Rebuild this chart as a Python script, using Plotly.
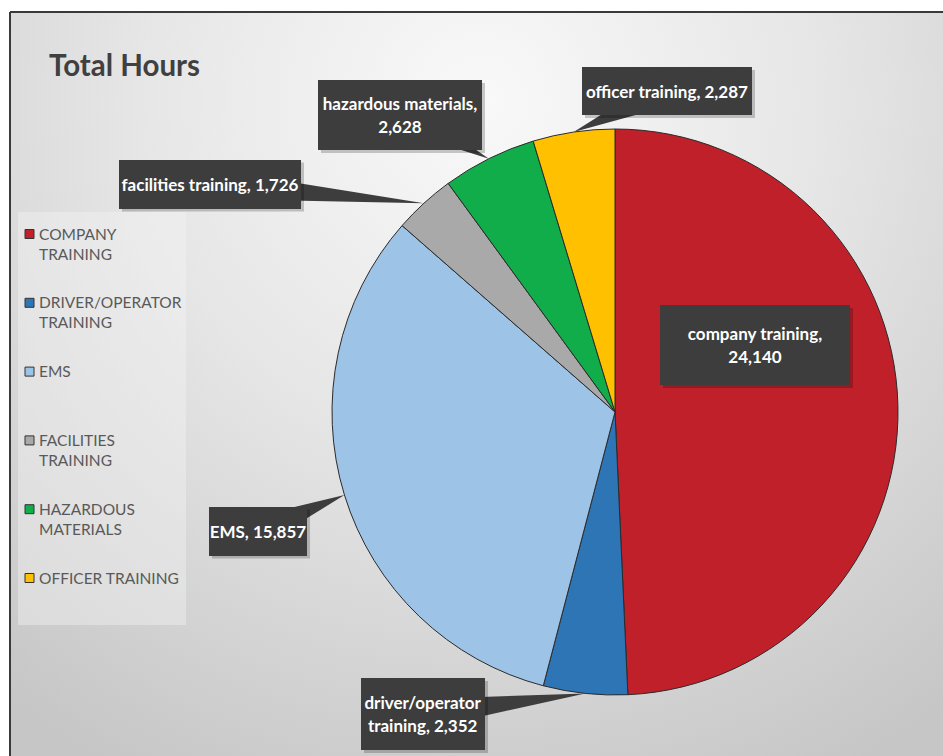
"""
plot.py - Total Hours pie chart with callout labels
"""

import base64
import math
import textwrap

import plotly.graph_objects as go

# Data
categories = ['company training', 'driver/operator training', 'EMS',
              'facilities training', 'hazardous materials', 'officer training']
hours = [24140, 2352, 15857, 1726, 2628, 2287]
legend_labels = ['COMPANY<br>TRAINING', 'DRIVER/OPERATOR<br>TRAINING', 'EMS',
                 'FACILITIES<br>TRAINING', 'HAZARDOUS<br>MATERIALS', 'OFFICER TRAINING']

# Colors / style
COLORS = ['#C0202A', '#2E75B6', '#9DC3E6', '#A9A9A9', '#12AD4B', '#FFC000']
W, H = 943, 756
FONT = 'Lato'

# Pie geometry (pixels)
CX, CY, R = 615, 412, 283

# Callout boxes: center x, center y, width, height, wrap chars, pointer
CALLOUTS = [
    (755, 345, 190, 80, 18, False),
    (423, 714, 124, 72, 16, True),
    (258, 531, 98, 49, 30, True),
    (210, 184, 182, 49, 30, True),
    (400, 115, 164, 70, 20, True),
    (667, 91, 170, 48, 30, True),
]


def px(x):
    return x / W


def py(y):
    return 1 - y / H


def background_uri():
    svg = (
        '<svg xmlns="http://www.w3.org/2000/svg" width="933" height="744">'
        '<defs><radialGradient id="g" gradientUnits="userSpaceOnUse" cx="470" cy="90" r="760">'
        '<stop offset="0" stop-color="#f9f9f9"/>'
        '<stop offset="0.45" stop-color="#e6e6e6"/>'
        '<stop offset="1" stop-color="#c6c6c6"/>'
        '</radialGradient></defs>'
        '<rect width="933" height="744" fill="url(#g)"/></svg>'
    )
    return 'data:image/svg+xml;base64,' + base64.b64encode(svg.encode()).decode()


fig = go.Figure()
fig.add_trace(go.Pie(
    labels=categories,
    values=hours,
    sort=False,
    direction='clockwise',
    rotation=0,
    textinfo='none',
    hoverinfo='label+value',
    marker=dict(colors=COLORS, line=dict(color='#2b2b2b', width=1)),
    domain=dict(x=[px(CX - R), px(CX + R)], y=[py(CY + R), py(CY - R)]),
    showlegend=False,
))

shapes = []
annotations = []

# Frame
shapes.append(dict(type='line', xref='paper', yref='paper', x0=px(10), x1=1,
                   y0=py(12), y1=py(12), line=dict(color='#3a3a3a', width=2)))
shapes.append(dict(type='line', xref='paper', yref='paper', x0=px(10), x1=px(10),
                   y0=py(12), y1=0, line=dict(color='#3a3a3a', width=2)))

# Callouts
total = sum(hours)
cum = 0
for cat, val, (bx, by, bw, bh, wrap, pointer) in zip(categories, hours, CALLOUTS):
    mid = (cum + val / 2) / total * 2 * math.pi
    cum += val
    ax = CX + R * math.sin(mid)
    ay = CY - R * math.cos(mid)
    if pointer:
        dx, dy = bx - ax, by - ay
        d = math.hypot(dx, dy)
        nx, ny = -dy / d * 15, dx / d * 15
        path = (f'M {px(ax)},{py(ay)} L {px(bx + nx)},{py(by + ny)} '
                f'L {px(bx - nx)},{py(by - ny)} Z')
        shapes.append(dict(type='path', xref='paper', yref='paper', path=path,
                           fillcolor='#3d3d3d', line=dict(width=0)))
    # shadow
    shapes.append(dict(type='rect', xref='paper', yref='paper',
                       x0=px(bx - bw / 2 + 3), x1=px(bx + bw / 2 + 3),
                       y0=py(by + bh / 2 + 3), y1=py(by - bh / 2 + 3),
                       fillcolor='rgba(0,0,0,0.2)', line=dict(width=0)))
    text = '<br>'.join(textwrap.wrap(f'{cat}, {val:,}', wrap))
    annotations.append(dict(
        xref='paper', yref='paper', x=px(bx), y=py(by), xanchor='center', yanchor='middle',
        text=f'<b>{text}</b>', showarrow=False, width=bw, height=bh,
        bgcolor='#3d3d3d', borderpad=0, borderwidth=0, align='center', valign='middle',
        font=dict(family=FONT, size=17, color='#ffffff'),
    ))

# Legend
shapes.append(dict(type='rect', xref='paper', yref='paper', x0=px(18), x1=px(186),
                   y0=py(625), y1=py(212), fillcolor='rgba(246,246,246,0.4)',
                   line=dict(width=0), layer='below'))
for i, (lab, col) in enumerate(zip(legend_labels, COLORS)):
    sy = 234 + i * 68.8
    shapes.append(dict(type='rect', xref='paper', yref='paper', x0=px(25), x1=px(34),
                       y0=py(sy + 4.5), y1=py(sy - 4.5), fillcolor=col,
                       line=dict(color='#333333', width=1)))
    annotations.append(dict(
        xref='paper', yref='paper', x=px(37), y=py(sy - 11.5), xanchor='left', yanchor='top',
        text=lab, showarrow=False, align='left',
        font=dict(family=FONT, size=15.5, color='#595959'),
    ))

# Title
annotations.append(dict(
    xref='paper', yref='paper', x=px(47), y=py(65), xanchor='left', yanchor='middle',
    text='<b>Total Hours</b>', showarrow=False,
    font=dict(family=FONT, size=29.5, color='#404040'),
))

fig.update_layout(
    width=W,
    height=H,
    margin=dict(l=0, r=0, t=0, b=0),
    paper_bgcolor='#ffffff',
    plot_bgcolor='rgba(0,0,0,0)',
    shapes=shapes,
    annotations=annotations,
    images=[dict(source=background_uri(), xref='paper', yref='paper',
                 x=px(10), y=py(12), sizex=1 - px(10), sizey=py(12),
                 xanchor='left', yanchor='top', sizing='stretch', layer='below')],
)

fig.write_html('out.html', config={'displayModeBar': False},
               post_script="document.body.style.margin='0';document.body.style.overflow='hidden';")
